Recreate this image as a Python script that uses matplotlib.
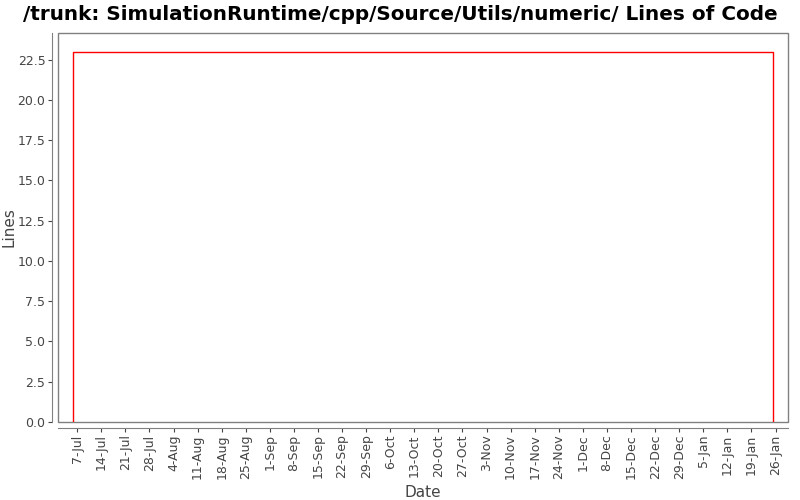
#!/usr/bin/env python3
"""Lines of code over time for one folder, JFreeChart look."""

import matplotlib
matplotlib.use("Agg")
import matplotlib.pyplot as plt
import matplotlib.dates as mdates
from matplotlib.patches import Rectangle
import numpy as np

# --- data ---
dates = np.array(["2008-07-05T16:00", "2008-07-05T16:00",
                  "2009-01-25T08:00", "2009-01-25T08:00"], dtype="datetime64[m]")
lines = [0, 23, 23, 0]

tick_dates = np.arange(np.datetime64("2008-07-07"), np.datetime64("2009-01-27"),
                       np.timedelta64(7, "D"))
x_min, x_max = np.datetime64("2008-07-01T10:00"), np.datetime64("2009-01-29T15:00")
y_max = 24.15

title = "/trunk: SimulationRuntime/cpp/Source/Utils/numeric/ Lines of Code"

# --- plot ---
fig = plt.figure(figsize=(8, 5), dpi=100)
ax = fig.add_axes([58 / 800, 1 - 422 / 500, (788 - 58) / 800, (422 - 33) / 500])

ax.plot(dates.astype("datetime64[s]").astype(object), lines, color="#ff0000", linewidth=1.0)

ax.set_xlim(x_min.astype("datetime64[s]").astype(object), x_max.astype("datetime64[s]").astype(object))
ax.set_ylim(0, y_max)

ax.set_xticks(tick_dates.astype("datetime64[s]").astype(object))
ax.xaxis.set_major_formatter(mdates.DateFormatter("%-d-%b"))
ax.set_yticks(np.arange(0, 23, 2.5))
ax.yaxis.set_major_formatter(plt.FormatStrFormatter("%.1f"))

grey = "#808080"
for side in ("top", "right"):
    ax.spines[side].set_visible(False)
for side in ("left", "bottom"):
    ax.spines[side].set_position(("outward", 4))
    ax.spines[side].set_color(grey)
ax.add_patch(Rectangle((0, 0), 1, 1, transform=ax.transAxes, fill=False,
                       edgecolor=grey, linewidth=1.0, clip_on=False))

ax.tick_params(axis="x", labelrotation=90, labelsize=9, colors="#444444",
               length=3, width=0.8, pad=2)
ax.tick_params(axis="y", labelsize=9, colors="#444444", length=3, width=0.8, pad=2)
for t in ax.get_xticklabels() + ax.get_yticklabels():
    t.set_color("#444444")

ax.set_xlabel("Date", fontsize=11, color="#444444")
ax.set_ylabel("Lines", fontsize=11, color="#444444", labelpad=1)

fig.suptitle(title, x=0.5, y=0.99, fontsize=14.4, fontweight="bold", va="top")

fig.savefig("out.png", dpi=100)
